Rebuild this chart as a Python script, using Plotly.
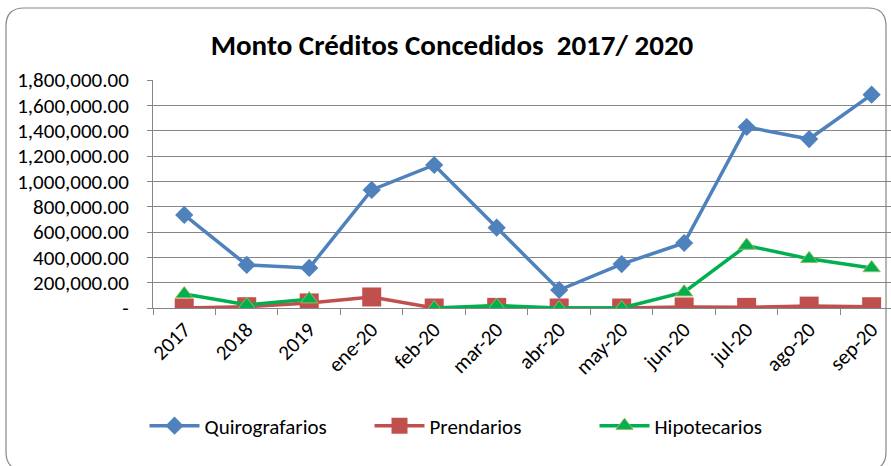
import plotly.graph_objs as go

categorias = ["2017", "2018", "2019", "ene-20", "feb-20", "mar-20",
              "abr-20", "may-20", "jun-20", "jul-20", "ago-20", "sep-20"]
quirografarios = [735000, 340000, 316000, 932000, 1129000, 634000,
                  142000, 347000, 513000, 1429000, 1334000, 1684000]
prendarios = [0, 10000, 40000, 87000, 0, 5000,
              0, 0, 8000, 5000, 15000, 10000]
hipotecarios = [110000, 25000, 70000, None, 0, 20000,
                0, 0, 125000, 493000, 388000, 316000]

y_ticks = list(range(0, 1800001, 200000))
y_text = ["-" if v == 0 else f"{v:,.2f}" for v in y_ticks]

FONT = "Carlito, Liberation Sans, sans-serif"
W, H = 891, 466
L, R, T, B = 153, 0, 80, 158

fig = go.Figure()
fig.add_trace(go.Scatter(
    x=categorias, y=quirografarios, name="Quirografarios",
    mode="lines+markers",
    line=dict(color="#4F81BD", width=3.5),
    marker=dict(symbol="diamond", size=14, color="#4F81BD"),
))
fig.add_trace(go.Scatter(
    x=categorias, y=prendarios, name="Prendarios",
    mode="lines+markers",
    line=dict(color="#C0504D", width=3.5),
    marker=dict(symbol="square", size=19, color="#C0504D"),
))
fig.add_trace(go.Scatter(
    x=categorias, y=hipotecarios, name="Hipotecarios",
    mode="lines+markers", connectgaps=False,
    line=dict(color="#00B050", width=3.5),
    marker=dict(symbol="triangle-up", size=15, color="#00B050",
                line=dict(color="#9BBB59", width=1)),
))

# rounded chart border, in paper coordinates
def px(x):
    return (x - L) / (W - L - R)

def py(y):
    return (H - B - y) / (H - T - B)

x0, x1, y0, y1, r = 6, 886, 8, 470, 18
path = (f"M {px(x0 + r)},{py(y0)} L {px(x1 - r)},{py(y0)} "
        f"Q {px(x1)},{py(y0)} {px(x1)},{py(y0 + r)} "
        f"L {px(x1)},{py(y1 - r)} Q {px(x1)},{py(y1)} {px(x1 - r)},{py(y1)} "
        f"L {px(x0 + r)},{py(y1)} Q {px(x0)},{py(y1)} {px(x0)},{py(y1 - r)} "
        f"L {px(x0)},{py(y0 + r)} Q {px(x0)},{py(y0)} {px(x0 + r)},{py(y0)} Z")

fig.update_layout(
    width=W, height=H,
    margin=dict(l=L, r=R, t=T, b=B, autoexpand=False),
    paper_bgcolor="white", plot_bgcolor="white",
    font=dict(family=FONT, size=21, color="black"),
    title=dict(text="<b>Monto Créditos Concedidos  2017/ 2020</b>",
               x=452 / W, xref="container", xanchor="center",
               y=1 - 45 / H, yref="container", yanchor="middle",
               font=dict(family=FONT, size=29, color="black")),
    showlegend=True,
    legend=dict(orientation="h", x=482 / W, xanchor="center", xref="container",
                y=1 - 426 / H, yref="container", yanchor="middle",
                font=dict(family=FONT, size=21), itemwidth=50,
                entrywidth=160),
    shapes=[dict(type="path", xref="paper", yref="paper", path=path,
                 line=dict(color="#868686", width=1.2), layer="below")],
)
fig.update_xaxes(
    type="category", range=[-0.5, 11.31], automargin=False,
    showline=True, linecolor="#868686", linewidth=1,
    ticks="outside", ticklen=6, tickcolor="#868686", tickson="boundaries",
    tickangle=-45, showgrid=False,
    tickfont=dict(family=FONT, size=21),
)
fig.update_yaxes(
    range=[0, 1800000], tickvals=y_ticks, ticktext=y_text, automargin=False,
    showline=True, linecolor="#868686", linewidth=1,
    ticks="outside", ticklen=5, tickcolor="#868686", ticklabelstandoff=14,
    showgrid=True, gridcolor="#868686", gridwidth=1,
    zeroline=False, tickfont=dict(family=FONT, size=21),
)

fig.write_html("out.html", config={"displayModeBar": False},
               post_script="document.body.style.margin='0';")
